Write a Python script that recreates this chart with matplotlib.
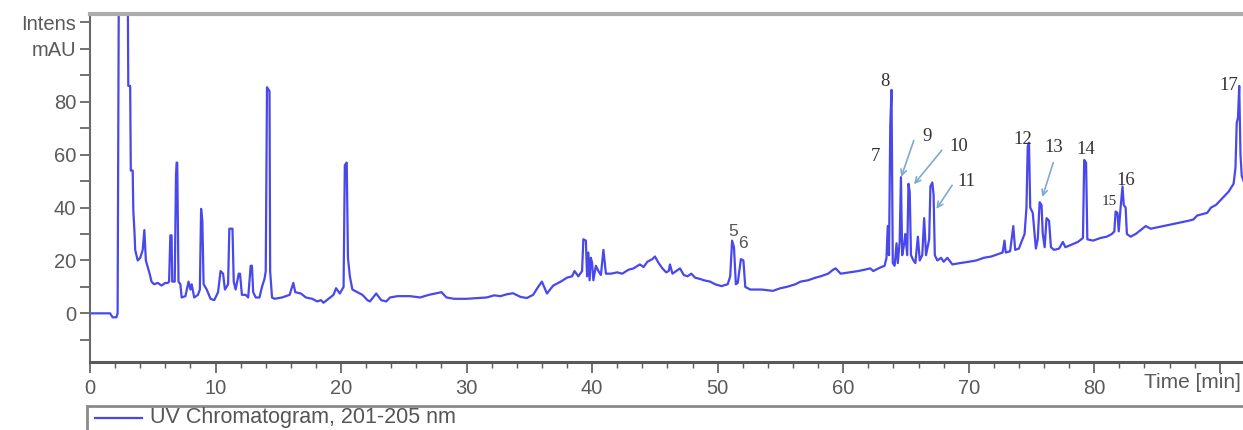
import matplotlib.pyplot as plt
from matplotlib.patches import Rectangle
from matplotlib.lines import Line2D

# retention time (min) and UV intensity (mAU)
time = [0, 1.6, 1.8, 2.1, 2.2, 2.3, 3.0, 3.05, 3.2, 3.25, 3.4, 3.45, 3.55, 3.6, 3.8, 4.0, 4.2, 4.33, 4.45,
        4.6, 4.75, 4.9, 5.1, 5.4, 5.7, 6.0, 6.2, 6.3, 6.4, 6.5, 6.55, 6.75, 6.85, 6.9, 6.95, 7.05, 7.2,
        7.3, 7.6, 7.85, 8.0, 8.1, 8.3, 8.6, 8.75, 8.85, 8.95, 9.05, 9.3, 9.6, 9.9, 10.2, 10.4, 10.6,
        10.75, 11.0, 11.1, 11.35, 11.45, 11.6, 11.85, 11.95, 12.1, 12.4, 12.6, 12.8, 12.9, 13.0, 13.2,
        13.5, 13.7, 13.9, 14.0, 14.1, 14.3, 14.35, 14.5, 14.7, 15.3, 15.9, 16.2, 16.35, 16.8, 17.2,
        17.7, 18.1, 18.4, 18.6, 19.0, 19.4, 19.6, 19.9, 20.2, 20.3, 20.45, 20.55, 20.7, 20.9, 21.3,
        21.7, 22.1, 22.3, 22.8, 23.2, 23.6, 23.9, 24.5, 25.5, 26.3, 27.0, 27.5, 28.0, 28.4, 29.0, 30.0,
        31.0, 31.6, 32.2, 32.7, 33.2, 33.7, 34.3, 34.8, 35.3, 35.7, 36.0, 36.4, 36.9, 37.5, 38.0, 38.4,
        38.6, 38.9, 39.2, 39.3, 39.5, 39.6, 39.7, 39.8, 39.9, 40.0, 40.1, 40.3, 40.5, 40.7, 40.9, 41.1,
        41.5, 42.0, 42.4, 42.9, 43.3, 43.8, 44.1, 44.4, 44.8, 45.0, 45.3, 45.6, 45.9, 46.1, 46.2, 46.4,
        46.7, 47.0, 47.3, 47.6, 47.9, 48.2, 48.6, 48.9, 49.4, 49.8, 50.3, 50.8, 51.0, 51.15, 51.3,
        51.45, 51.6, 51.85, 52.05, 52.2, 52.6, 53.5, 54.4, 55.0, 55.5, 56.2, 56.6, 57.2, 57.8, 58.2,
        58.8, 59.2, 59.4, 59.8, 60.5, 61.2, 61.7, 62.15, 62.4, 62.8, 63.3, 63.45, 63.55, 63.65, 63.75,
        63.85, 63.95, 64.1, 64.25, 64.35, 64.5, 64.6, 64.7, 64.85, 64.95, 65.1, 65.2, 65.3, 65.4, 65.6,
        65.75, 65.95, 66.1, 66.3, 66.45, 66.6, 66.85, 66.95, 67.1, 67.2, 67.3, 67.5, 67.8, 68.0, 68.3,
        68.7, 69.3, 70.0, 70.6, 71.2, 71.8, 72.4, 72.7, 72.85, 72.95, 73.3, 73.55, 73.7, 74.0, 74.2,
        74.45, 74.6, 74.7, 74.8, 74.9, 75.1, 75.25, 75.35, 75.5, 75.65, 75.8, 75.9, 76.05, 76.2, 76.4,
        76.55, 76.8, 77.2, 77.5, 77.7, 78.2, 78.7, 79.1, 79.2, 79.35, 79.45, 79.9, 80.5, 81.0, 81.4,
        81.6, 81.7, 81.85, 81.95, 82.1, 82.25, 82.35, 82.5, 82.6, 82.9, 83.3, 83.7, 84.1, 84.5, 85.0,
        85.5, 86.0, 86.5, 87.0, 87.5, 87.9, 88.2, 88.6, 89.0, 89.3, 89.7, 90.2, 90.7, 91.1, 91.25,
        91.35, 91.45, 91.55, 91.65, 91.75, 91.9]
intens = [0, 0, -1.5, -1.5, 0, 130, 130, 86, 86, 54, 54, 39, 30, 24, 20, 21, 24, 31.5, 20,
          17.5, 15, 12, 11, 11.5, 10.5, 11.5, 11.5, 12, 29.5, 29.5, 12, 12, 52, 57, 57, 12, 11,
          6, 6.5, 12, 9, 11, 6, 7, 9, 39.5, 35, 11, 9, 5.5, 5, 8, 16, 15,
          9, 11, 32, 32, 12, 9, 15, 15, 7, 7, 6, 18, 18, 8, 6,
          6, 10, 13, 16, 85.5, 84, 16, 6, 5.5, 6, 7, 11.5, 8, 7.5, 6,
          5.5, 4.5, 5, 4, 5.5, 7, 9.5, 7.5, 10, 56, 57, 21, 14, 9, 8,
          7, 5, 4.5, 7.5, 5, 4.5, 6, 6.5, 6.5, 6, 7, 7.5, 8, 6, 5.5, 5.5,
          5.8, 6, 6.8, 6.5, 7.2, 7.6, 6.2, 5.8, 7, 10, 12, 7.5, 10.5, 12, 13.5, 14,
          16, 14, 16, 28, 27.5, 14, 23, 12.5, 21, 19, 12.5, 18, 16, 14.5, 24, 15,
          15, 15.5, 15, 16.5, 17, 18.5, 17.5, 19.5, 20.5, 21.5, 19, 17, 15.5, 16, 18.5, 15,
          16, 17, 14.5, 14, 15, 13.5, 13, 12.5, 12, 11, 10.3, 11, 14, 27.5, 25,
          11, 11.5, 20.5, 20, 10, 9, 9, 8.5, 9.5, 10, 11, 12, 12.5, 13.5, 14,
          15, 16.5, 17, 15, 15.5, 16, 16.5, 17, 16, 17, 18, 21, 33, 22, 71,
          84.5, 19, 18, 26.5, 19, 27, 51.5, 22, 26, 30, 22, 49, 46, 22, 20,
          19, 29, 20, 22, 36, 22, 28, 48, 49.5, 45, 22, 20, 21, 19.5, 21,
          18.5, 19, 19.5, 20, 21, 21.5, 22.5, 23, 27.5, 23, 23.5, 33, 24, 24.5, 27,
          30, 40, 63, 64.5, 40, 38, 30, 24.5, 28, 42, 41, 30, 25, 36, 35,
          25, 24, 24.5, 27, 25, 26, 27, 28.5, 58, 57, 28, 27.5, 28.5, 29, 30,
          31, 38.5, 38, 31, 40, 48, 41, 40, 30, 29, 30, 31.5, 33, 32, 32.5,
          33, 33.5, 34, 34.5, 35, 35.5, 37, 37.5, 38, 40, 41, 43.5, 46, 49, 55,
          72, 74, 86, 60, 52, 50]

# peak numbers: (label, time, intensity)
peak_labels = ['5', '6', '7', '8', '9', '10', '11', '12', '13', '14', '15', '16', '17']
peak_t = [51.2, 52.0, 62.55, 63.35, 66.7, 69.2, 69.8, 74.3, 76.8, 79.3, 81.2, 82.5, 90.7]
peak_i = [30.9, 26.4, 59.4, 87.7, 66.8, 63.0, 49.8, 65.7, 62.6, 62.1, 42.4, 50.3, 86.0]

# arrows from label to peak: (tail t, tail i, tip t, tip i)
arrows = [(65.7, 66.4, 64.55, 50.6),
          (68.0, 62.5, 65.5, 48.0),
          (68.8, 49.3, 67.3, 38.6),
          (76.8, 58.0, 75.8, 43.0)]

W, H = 1243, 430
fig = plt.figure(figsize=(W / 100, H / 100), dpi=100)
ax = fig.add_axes([90 / W, 1 - 362 / H, 1 - 90 / W, (362 - 14) / H])

ax.plot(time, intens, color='#4848ec', lw=1.6)
ax.set_xlim(0, 91.85)
ax.set_ylim(-18.4, 113.2)

tick_col = '#5a5a5a'
ax.set_xticks(range(0, 91, 10))
ax.set_xticklabels([str(v) for v in range(0, 81, 10)] + [''])
ax.set_xticks(range(0, 92, 2), minor=True)
ax.set_yticks(range(-10, 111, 10))
ylabs = []
for v in range(-10, 111, 10):
    if v == 100:
        ylabs.append('mAU')
    elif v == 110:
        ylabs.append('Intens')
    elif v % 20 == 0:
        ylabs.append(str(v))
    else:
        ylabs.append('')
ax.set_yticklabels(ylabs)
ax.tick_params(axis='both', which='both', direction='out', colors=tick_col,
               labelsize=14.5, labelcolor=tick_col)
ax.tick_params(axis='x', which='major', length=8, width=1.2, pad=4)
ax.tick_params(axis='x', which='minor', length=4, width=1)
ax.tick_params(axis='y', which='major', length=7, width=1.2, pad=3)
for lab in ax.get_xticklabels() + ax.get_yticklabels():
    lab.set_family('Liberation Sans')

ax.spines['right'].set_visible(False)
ax.spines['top'].set_color('#acacac')
ax.spines['top'].set_linewidth(3)
ax.spines['left'].set_color('#6a6a6a')
ax.spines['left'].set_linewidth(1.5)
ax.spines['bottom'].set_color('#5a5a5a')
ax.spines['bottom'].set_linewidth(2.2)

fig.text(1241 / W, 1 - 383 / H, 'Time [min]', ha='right', va='center', fontsize=15,
         color=tick_col, family='Liberation Sans')

for lab, t, v in zip(peak_labels, peak_t, peak_i):
    if lab in ('5', '6'):
        ax.text(t, v, lab, ha='center', va='center', fontsize=12.5, color='#555555',
                family='Liberation Sans')
    elif lab == '15':
        ax.text(t, v, lab, ha='center', va='center', fontsize=11, color='#333333',
                family='Liberation Serif')
    else:
        ax.text(t, v, lab, ha='center', va='center', fontsize=13.5, color='#333333',
                family='Liberation Serif')

for t0, v0, t1, v1 in arrows:
    ax.annotate('', xy=(t1, v1), xytext=(t0, v0),
                arrowprops=dict(arrowstyle='->', color='#7ea9d6', lw=1.2))

# legend strip along the bottom
fig.patches.append(Rectangle((87 / W, -0.02), 1, (430 - 406) / H + 0.02, transform=fig.transFigure,
                             facecolor='white', edgecolor='#8a8a8a', lw=2))
fig.lines.append(Line2D([95 / W, 142 / W], [1 - 418 / H, 1 - 418 / H], transform=fig.transFigure,
                        color='#4848ec', lw=1.6))
fig.text(150 / W, 1 - 418 / H, 'UV Chromatogram, 201-205 nm', ha='left', va='center',
         fontsize=15.5, color='#555555', family='Liberation Sans')

fig.savefig('out.png', dpi=100)
